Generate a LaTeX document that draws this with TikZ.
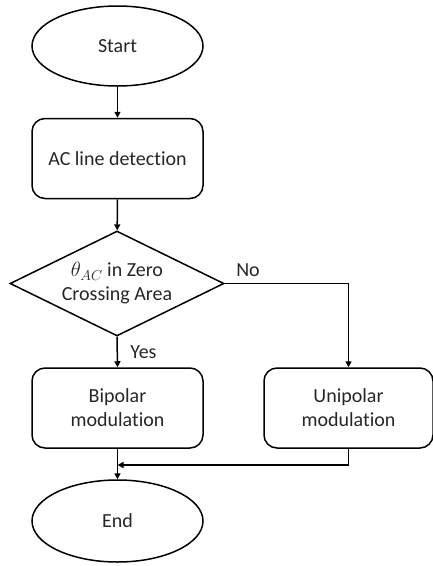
\documentclass[tikz,border=0pt]{standalone}
\usepackage{fontspec}
\setmainfont[Ligatures=NoCommon]{Carlito}
\usetikzlibrary{shapes.geometric,arrows.meta,calc}
\begin{document}
\begin{tikzpicture}[x=1pt,y=-1pt,
  every node/.style={font=\fontsize{20}{24}\selectfont, text=black!85},
  term/.style={ellipse, draw, line width=1.5pt, minimum width=171pt, minimum height=80pt, inner sep=0pt},
  proc/.style={rectangle, draw, line width=1.5pt, rounded corners=13pt, minimum width=171pt, minimum height=80pt, inner sep=0pt, align=center},
  dec/.style={diamond, draw, line width=1.5pt, aspect=2, minimum width=214pt, minimum height=105pt, inner sep=0pt, align=center},
  conn/.style={line width=1.5pt, -{Triangle[length=6pt,width=6pt]}},
  lbl/.style={inner sep=0pt}
]
\useasboundingbox (0,0) rectangle (433,566);
\node[term] (start) at (117.5,46) {Start};
\node[proc] (ac) at (117.5,158.5) {AC line detection};
\node[dec] (cond) at (117,283.5) {$\theta_{AC}$ in Zero\\Crossing Area};
\node[proc] (bip) at (117.5,408) {Bipolar\\modulation};
\node[proc, minimum width=169pt] (uni) at (348.5,408) {Unipolar\\modulation};
\node[term, minimum height=82pt] (end) at (117.5,521) {End};
\coordinate (merge) at (117.5,465);

\draw[conn] (start) -- (ac);
\draw[conn] (ac) -- (cond);
\draw[conn] (cond.south) -- (bip.north);
\draw[conn] (cond.east) -| (uni.north);
\draw[conn] (bip.south) -- (end.north);
\draw[conn] (uni.south) |- (merge);

\node[lbl] (yes) at (143.5,352) {Yes};
\node[lbl] (no) at (248,270) {No};
\end{tikzpicture}
\end{document}
